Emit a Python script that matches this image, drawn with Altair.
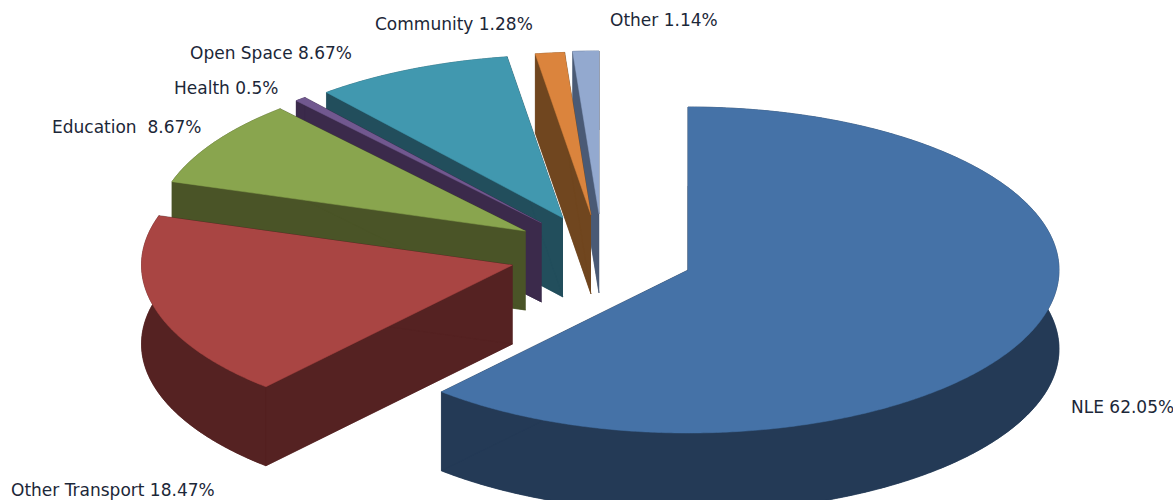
import math
import altair as alt
import pandas as pd

# Project spend shares, clockwise from twelve o'clock
names = ["NLE", "Other Transport", "Education", "Health", "Open Space", "Community", "Other"]
shares = [62.05, 18.47, 8.67, 0.5, 8.67, 1.28, 1.14]
label_texts = [f"{n} {s}%" for n, s in zip(names, shares)]
label_texts[2] = "Education\u00a0 8.67%"

# Face and wall colours
top_colors = ["#4572A7", "#A94543", "#89A54E", "#71588F", "#4198AF", "#DB843D", "#93A9CF"]
wall_colors = ["#243A56", "#552222", "#4A5427", "#3B2A4B", "#224E5C", "#70461F", "#4A5A75"]

# Where each exploded wedge's tip sits, and the tilted-disc geometry
tip_x = [688, 512.5, 525.5, 541.5, 563, 591, 599]
tip_y = [270, 265, 231, 223, 218, 215, 214]
radius_x, radius_y, depth = 371, 163, 79

# Label anchors (left edge, vertical centre)
label_x = [1071, 11, 52, 174, 190, 375, 610]
label_y = [408, 491, 128, 89, 54, 25, 21]

WIDTH, HEIGHT = 1173, 500
x_scale = alt.Scale(domain=[0, WIDTH], nice=False, zero=False)
y_scale = alt.Scale(domain=[HEIGHT, 0], nice=False, zero=False)


def rim(cx, cy, start, end, drop=0):
    """Points along the elliptical rim between two angles in degrees."""
    steps = max(2, int((end - start) * 2))
    pts = []
    for i in range(steps + 1):
        t = math.radians(start + (end - start) * i / steps)
        pts.append((cx + radius_x * math.sin(t), cy - radius_y * math.cos(t) + drop))
    return pts


def outline(points, part):
    return [{"part": part, "seq": i, "px": p[0], "py": p[1]} for i, p in enumerate(points)]


def filled(rows, colour):
    return (
        alt.Chart(pd.DataFrame(rows))
        .mark_line(fill=colour, stroke=colour, strokeWidth=0.5, clip=True, interpolate="linear")
        .encode(
            x=alt.X("px:Q", scale=x_scale, axis=None),
            y=alt.Y("py:Q", scale=y_scale, axis=None),
            order="seq:Q",
            detail="part:N",
        )
    )


total = sum(shares)
angles = [0.0]
for s in shares:
    angles.append(angles[-1] + s / total * 360)

wall_layers = {}
top_layers = {}
for k in range(len(names)):
    cx, cy = tip_x[k], tip_y[k]
    a0, a1 = angles[k], angles[k + 1]
    top_arc = rim(cx, cy, a0, a1)
    low_arc = rim(cx, cy, a0, a1, depth)
    tip = (cx, cy)
    low_tip = (cx, cy + depth)
    rows = []
    rows += outline([low_tip] + low_arc, "floor")
    rows += outline(top_arc + low_arc[::-1], "band")
    rows += outline([tip, top_arc[0], low_arc[0], low_tip], "cut_a")
    rows += outline([tip, top_arc[-1], low_arc[-1], low_tip], "cut_b")
    wall_layers[k] = filled(rows, wall_colors[k])
    top_layers[k] = filled(outline([tip] + top_arc, "top"), top_colors[k])

# Paint from the back of the fan to the front
layers = []
for k in [6, 5, 4, 3, 2, 1, 0]:
    layers.append(wall_layers[k])
    layers.append(top_layers[k])

labels = (
    alt.Chart(pd.DataFrame({"label": label_texts, "lx": label_x, "ly": label_y}))
    .mark_text(align="left", baseline="middle", font="DejaVu Sans", fontSize=17, color="#1C2738")
    .encode(
        x=alt.X("lx:Q", scale=x_scale, axis=None),
        y=alt.Y("ly:Q", scale=y_scale, axis=None),
        text="label:N",
    )
)

chart = (
    alt.layer(*layers, labels)
    .properties(width=WIDTH, height=HEIGHT, padding=0, background="white",
                autosize=alt.AutoSizeParams(type="none"))
    .configure_view(stroke=None)
)

chart.save("out.html", embed_options={"renderer": "svg", "actions": False})
